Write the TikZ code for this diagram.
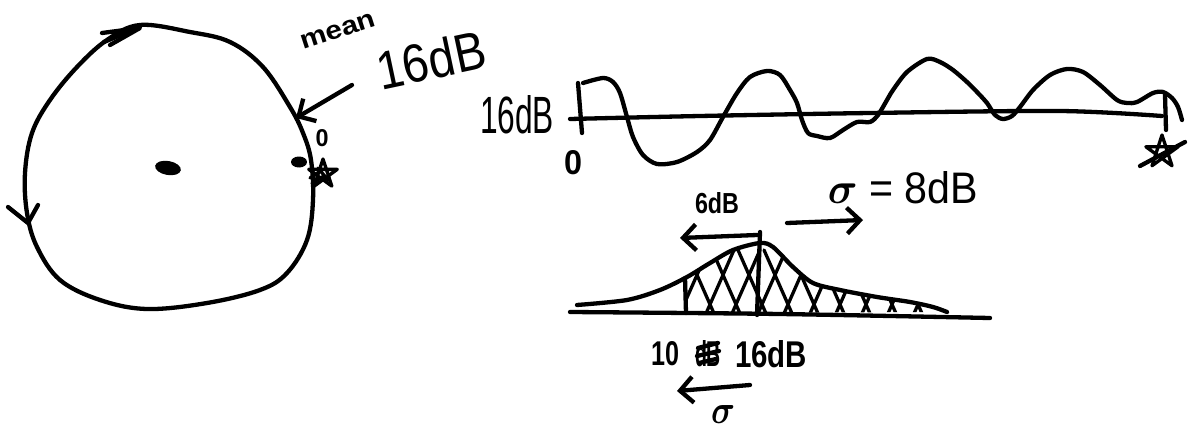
\documentclass[tikz,border=0pt]{standalone}
\usepackage{amsmath}
\usepackage{fontspec}
\setmainfont{Liberation Sans}
\usepackage{graphicx}
\usetikzlibrary{arrows.meta}
\tikzset{
  lbl/.style={inner sep=0pt,anchor=center},
  pen/.style={line width=4.3pt},
  thinpen/.style={line width=3.3pt},
  barb/.style={-{Straight Barb[length=13pt,width=26pt]}},
  pentagram/.style={thinpen}
}
\newcommand{\hw}[3]{\resizebox{#1}{#2}{#3}}
\begin{document}
\begin{tikzpicture}[x=1pt,y=-1pt,line width=4.3pt,line cap=round,line join=round]
\useasboundingbox (0,0) rectangle (1188,433);

% ---------- circle ----------
\draw[pen] plot[smooth cycle,tension=0.6] coordinates {(140,25) (190,32) (230,42) (263,67) (290,107) (303,133) (311,160) (313,200) (307,240) (287,273) (260,290) (207,303) (147,309) (100,300) (60,280) (37,247) (27,213) (25,173) (32,133) (50,100) (77,67) (107,40)};
% top arrowhead
\coordinate (ttip) at (140,28);
\draw[pen] (102,33) -- (ttip) -- (110,45);
\draw[pen] (104,42) -- (128,32);
% left arrowhead
\coordinate (ltip) at (28,223);
\draw[pen] (8,207) -- (ltip) -- (38,205);
% centre dot
\fill[rotate around={-10:(168,168)}] (168,168) ellipse [x radius=13pt,y radius=7pt];
% dot on the circle
\coordinate (cdot) at (299,162);
\fill (cdot) ellipse [x radius=8pt,y radius=5.5pt];
% star on the circle
\coordinate (cstar) at (323,174);
\draw[pentagram,shift={(cstar)}] (-90:15) -- (54:15) -- (198:15) -- (342:15) -- (126:15) -- cycle;
\draw[thinpen] (310,178) -- (322,170) (312,183) -- (324,176) (318,168) -- (328,180);
% small 0 on the circle
\node[lbl] (czero) at (322,138) {\hw{13pt}{17pt}{\bfseries 0}};
% labels mean / 16dB and arrow
\node[lbl,rotate=18] (mean) at (338,31) {\hw{78pt}{14pt}{\bfseries mean}};
\node[lbl,rotate=12] (topdb) at (431,60) {\hw{110pt}{39pt}{16dB}};
\coordinate (astart) at (352,85);
\coordinate (aend) at (296,118);
\draw[pen,barb] (astart) -- (aend);

% ---------- time series ----------
\node[lbl] (leftdb) at (517,115) {\hw{74pt}{38pt}{16dB}};
\node[lbl] (zero) at (573,163) {\hw{18pt}{24pt}{\bfseries 0}};
\coordinate (tickA) at (578,83);
\coordinate (tickB) at (582,133);
\draw[pen] (tickA) -- (tickB);
\draw[pen] plot[smooth] coordinates {(570,119) (700,116) (870,113) (1060,111) (1162,116)};
\draw[pen] plot[smooth,tension=0.5] coordinates {(583,83) (603,78) (613,82) (620,93) (627,117) (633,137) (643,155) (657,164) (677,162) (697,152) (710,140) (723,117) (737,93) (750,77) (767,71) (780,75) (790,90) (797,103) (802,120) (808,133) (817,136) (830,138) (843,130) (857,122) (870,122) (878,115) (887,100) (893,90) (907,72) (927,59) (940,62) (953,70) (967,82) (977,92) (987,103) (995,115) (1003,119) (1012,116) (1020,107) (1033,90) (1050,75) (1067,69) (1083,72) (1100,85) (1117,100) (1127,103) (1137,102) (1153,93) (1163,92) (1172,98) (1178,107) (1182,120)};
\coordinate (tickC) at (1165,95);
\coordinate (tickD) at (1166,130);
\draw[pen] (tickC) -- (tickD);
% end star
\coordinate (estar) at (1162,152);
\draw[pentagram,shift={(estar)}] (-90:17) -- (54:17) -- (198:17) -- (342:17) -- (126:17) -- cycle;
\draw[pen] (1140,166) -- (1185,142);

% ---------- bell curve ----------
\node[lbl] (sigmalbl) at (903,188) {\hw{150pt}{32pt}{$\boldsymbol{\sigma}$ = 8dB}};
\node[lbl] (sixdb) at (717,203) {\hw{44pt}{21pt}{\bfseries 6dB}};
\draw[pen] plot[smooth] coordinates {(570,312) (780,314) (990,318)};
\draw[pen] plot[smooth] coordinates {(577,305) (627,300) (660,290) (687,277) (710,263) (733,250) (760,243) (773,247) (793,267) (813,283) (840,290) (877,297) (910,302) (933,307) (947,312)};
\coordinate (peakT) at (760,232);
\coordinate (peakB) at (757,315);
\draw[pen] (peakT) -- (peakB);
\draw[pen] (685,278) -- (686,313);
\begin{scope}
  \clip (685,313) -- (685,277) -- plot[smooth] coordinates {(687,277) (710,263) (733,250) (760,243) (773,247) (793,267) (813,283) (840,290) (877,297) (910,302) (933,307) (947,312)} -- cycle;
  \foreach \i in {0,...,9} {
    \draw[thinpen] (678+\i*26,318) -- (708+\i*26,250);
    \draw[thinpen] (686+\i*26,250) -- (716+\i*26,318);
  }
\end{scope}
\coordinate (lA) at (757,235);
\coordinate (lB) at (680,238);
\draw[pen,barb] (lA) -- (lB);
\coordinate (rA) at (787,223);
\coordinate (rB) at (863,220);
\draw[pen,barb] (rA) -- (rB);
% bottom labels
\node[lbl] (ten) at (665,354) {\hw{28pt}{24pt}{\bfseries 10}};
\node[lbl] (crossed) at (708,354) {\hw{26pt}{26pt}{\bfseries dB}};
\draw[pen] (698,348) -- (718,343) (697,356) -- (719,351) (699,363) -- (716,359);
\node[lbl] (sixteen) at (771,354) {\hw{72pt}{27pt}{\bfseries 16dB}};
\coordinate (bA) at (750,385);
\coordinate (bB) at (677,391);
\draw[pen,barb] (bA) -- (bB);
\node[lbl] (sigmab) at (723,414) {\hw{24pt}{18pt}{$\boldsymbol{\sigma}$}};
\end{tikzpicture}
\end{document}
